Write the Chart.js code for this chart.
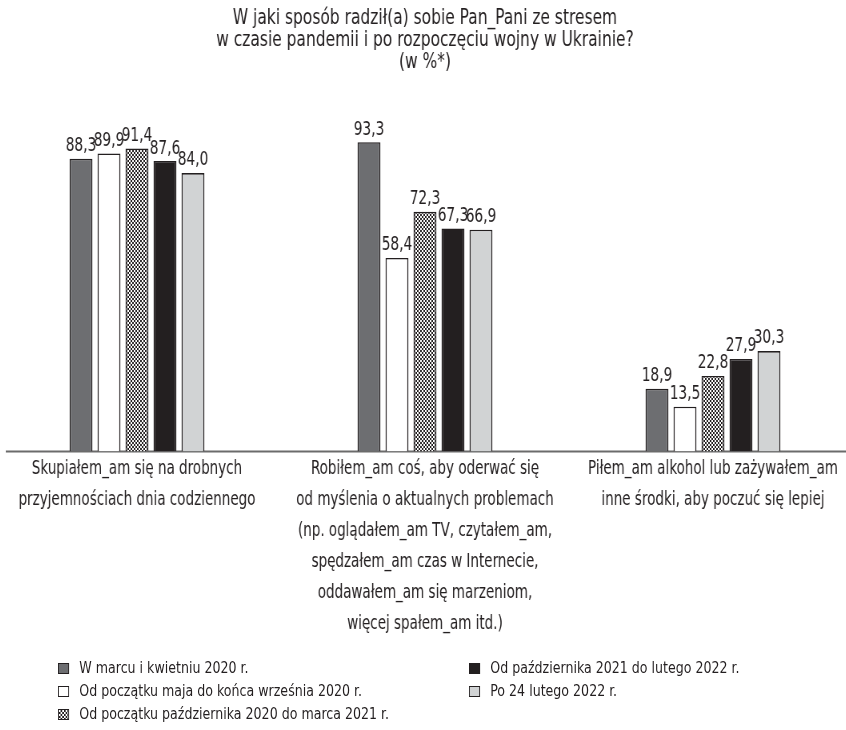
<!DOCTYPE html>
<html lang="pl">
<head>
<meta charset="utf-8">
<script src="https://cdn.jsdelivr.net/npm/chart.js@4.4.1/dist/chart.umd.min.js"></script>
<style>
  html, body { margin: 0; padding: 0; background: #fff; }
  body { width: 846px; height: 730px; position: relative; overflow: hidden;
         font-family: "DejaVu Sans Condensed", "DejaVu Sans", sans-serif; color: #231f20; }
  /* the chart is laid out wider and squeezed horizontally, giving a narrow typeface look */
  #wrap { position: absolute; left: -7px; top: 0; width: 1080px; height: 660px;
          transform: scaleX(0.8); transform-origin: 0 0; }
  #legend { position: absolute; left: 0; top: 659px; width: 846px; }
  .item { position: absolute; font-size: 16.5px; line-height: 18px; white-space: nowrap;
          transform: scaleX(0.85); transform-origin: 0 0; }
  .sw { display: inline-block; box-sizing: border-box; width: 13px; height: 11px;
        border: 1px solid #231f20; vertical-align: -1px; margin-right: 12px; }
</style>
</head>
<body>
<div id="wrap"><canvas id="c"></canvas></div>
<div id="legend"></div>
<script>
// Survey question and answer categories
const titleLines = [
  'W jaki sposób radził(a) sobie Pan_Pani ze stresem',
  'w czasie pandemii i po rozpoczęciu wojny w Ukrainie?',
  '(w %*)'
];
const categories = [
  ['Skupiałem_am się na drobnych', 'przyjemnościach dnia codziennego'],
  ['Robiłem_am coś, aby oderwać się', 'od myślenia o aktualnych problemach',
   '(np. oglądałem_am TV, czytałem_am,', 'spędzałem_am czas w Internecie,',
   'oddawałem_am się marzeniom,', 'więcej spałem_am itd.)'],
  ['Piłem_am alkohol lub zażywałem_am', 'inne środki, aby poczuć się lepiej']
];
const periods = [
  'W marcu i kwietniu 2020 r.',
  'Od początku maja do końca września 2020 r.',
  'Od początku października 2020 do marca 2021 r.',
  'Od października 2021 do lutego 2022 r.',
  'Po 24 lutego 2022 r.'
];
// Percentages per period, in category order
const marApr2020 = [88.3, 93.3, 18.9];
const maySep2020 = [89.9, 58.4, 13.5];
const oct2020Mar2021 = [91.4, 72.3, 22.8];
const oct2021Feb2022 = [87.6, 67.3, 27.9];
const after24Feb2022 = [84.0, 66.9, 30.3];
const seriesValues = [marApr2020, maySep2020, oct2020Mar2021, oct2021Feb2022, after24Feb2022];

const FONT = '"DejaVu Sans Condensed", "DejaVu Sans", sans-serif';
const INK = '#231f20';

// fine checkerboard fill
function checker() {
  const p = document.createElement('canvas');
  p.width = 4; p.height = 4;
  const g = p.getContext('2d');
  g.fillStyle = '#ffffff'; g.fillRect(0, 0, 4, 4);
  g.fillStyle = INK; g.fillRect(0, 0, 2, 2); g.fillRect(2, 2, 2, 2);
  return g.createPattern(p, 'repeat');
}
const fills = ['#6d6e71', '#ffffff', checker(), INK, '#d1d3d4'];
const swatchCss = ['#6d6e71', '#ffffff',
  'repeating-conic-gradient(#231f20 0 25%, #ffffff 0 50%) 0 0/4px 4px', INK, '#d1d3d4'];

const fmt = v => v.toFixed(1).replace('.', ',');

// value labels above each bar
const valueLabels = {
  id: 'valueLabels',
  afterDatasetsDraw(chart) {
    const ctx = chart.ctx;
    ctx.save();
    ctx.font = '19px ' + FONT;
    ctx.fillStyle = INK;
    ctx.textAlign = 'center';
    ctx.textBaseline = 'bottom';
    chart.data.datasets.forEach((ds, i) => {
      chart.getDatasetMeta(i).data.forEach((bar, j) => {
        ctx.fillText(fmt(ds.data[j]), bar.x, bar.y - 3);
      });
    });
    ctx.restore();
  }
};

// baseline under the bars
const baseline = {
  id: 'baseline',
  beforeDatasetsDraw(chart) {
    const { ctx, chartArea, scales } = chart;
    const y = scales.y.getPixelForValue(0);
    ctx.save();
    ctx.strokeStyle = '#6b6b6b';
    ctx.lineWidth = 2;
    ctx.beginPath();
    ctx.moveTo(chartArea.left + 16, y);
    ctx.lineTo(chartArea.right, y);
    ctx.stroke();
    ctx.restore();
  }
};

new Chart(document.getElementById('c'), {
  type: 'bar',
  data: {
    labels: categories,
    datasets: seriesValues.map((vals, i) => ({
      label: periods[i],
      data: vals,
      backgroundColor: fills[i],
      borderColor: INK,
      borderWidth: 1.6,
      categoryPercentage: 0.486,
      barPercentage: 0.82
    }))
  },
  options: {
    responsive: true,
    maintainAspectRatio: false,
    animation: false,
    layout: { padding: { top: 0, bottom: 17.5, left: 0, right: 0 } },
    plugins: {
      legend: { display: false },
      tooltip: { enabled: false },
      title: {
        display: true,
        text: titleLines,
        color: INK,
        font: { family: FONT, size: 21.5, weight: 'normal', lineHeight: 22 / 21.5 },
        padding: { top: 7, bottom: 47 }
      }
    },
    scales: {
      x: {
        grid: { display: false, drawTicks: false },
        border: { display: false },
        ticks: {
          color: INK,
          padding: 2.5,
          maxRotation: 0,
          autoSkip: false,
          font: { family: FONT, size: 18.75, lineHeight: 31 / 18.75 }
        }
      },
      y: { display: false, min: 0, max: 100 }
    }
  },
  plugins: [baseline, valueLabels]
});

// two-column legend, filled column by column
const legend = document.getElementById('legend');
const colX = [58, 469];
periods.forEach((p, i) => {
  const col = i < 3 ? 0 : 1;
  const row = i < 3 ? i : i - 3;
  const el = document.createElement('div');
  el.className = 'item';
  el.style.left = colX[col] + 'px';
  el.style.top = (row * 23) + 'px';
  const sw = document.createElement('span');
  sw.className = 'sw';
  sw.style.background = swatchCss[i];
  el.appendChild(sw);
  el.appendChild(document.createTextNode(p));
  legend.appendChild(el);
});
</script>
</body>
</html>
